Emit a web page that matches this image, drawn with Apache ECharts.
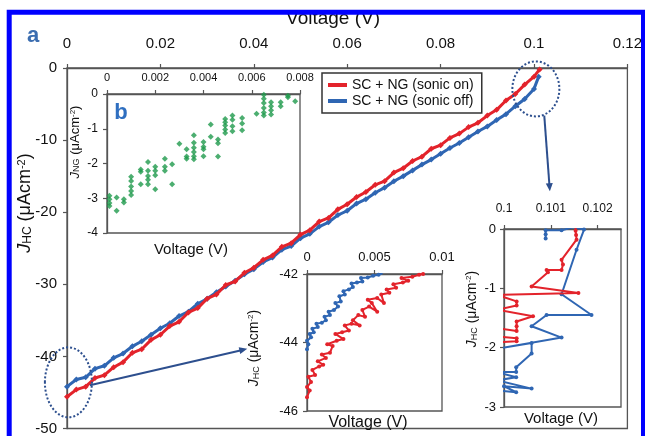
<!DOCTYPE html>
<html><head><meta charset="utf-8">
<script src="https://cdn.jsdelivr.net/npm/echarts@6/dist/echarts.min.js"></script>
<style>html,body{margin:0;padding:0;background:#fff}#c{width:645px;height:436px}</style>
</head><body><div id="c"></div>
<script>
const FONT = '"Liberation Sans", Arial, sans-serif';
const RED = '#e3232b', BLUE = '#2f66b3', GREEN = '#1f9a4c';

// ---- data ----
const legendNames = ['SC + NG (sonic on)', 'SC + NG (sonic off)'];
// main panel (a): Voltage (V) vs J_HC
const mainRed = [
 [0,-45.6],[0.002,-44.6],[0.004,-44.2],[0.006,-43.0],[0.008,-42.6],[0.010,-41.5],[0.012,-40.8],[0.014,-39.5],
 [0.016,-39.0],[0.018,-37.7],[0.020,-37.0],[0.022,-35.8],[0.024,-35.2],[0.026,-33.9],[0.028,-33.3],[0.030,-32.0],
 [0.032,-31.4],[0.034,-30.1],[0.036,-29.6],[0.038,-28.4],[0.040,-27.7],[0.042,-26.6],[0.044,-26.0],[0.046,-24.8],
 [0.048,-24.3],[0.050,-23.1],[0.052,-22.5],[0.054,-21.3],[0.056,-20.8],[0.058,-19.6],[0.060,-18.9],[0.062,-17.9],
 [0.064,-17.2],[0.066,-16.2],[0.068,-15.7],[0.070,-14.5],[0.072,-13.9],[0.074,-12.9],[0.076,-12.3],[0.078,-11.2],
 [0.080,-10.7],[0.082,-9.7],[0.084,-9.1],[0.086,-8.2],[0.088,-7.6],[0.090,-6.6],[0.092,-5.8],[0.094,-4.5],
 [0.096,-3.6],[0.098,-2.3],[0.100,-1.2],[0.1012,-0.2]
];
const mainBlue = [
 [0,-44.2],[0.002,-43.2],[0.004,-42.9],[0.006,-41.7],[0.008,-41.3],[0.010,-40.2],[0.012,-39.6],[0.014,-38.6],
 [0.016,-37.9],[0.018,-37.0],[0.020,-36.1],[0.022,-35.4],[0.024,-34.4],[0.026,-33.8],[0.028,-32.7],[0.030,-32.0],
 [0.032,-31.1],[0.034,-30.3],[0.036,-29.5],[0.038,-28.6],[0.040,-27.9],[0.042,-26.9],[0.044,-26.3],[0.046,-25.2],
 [0.048,-24.7],[0.050,-23.6],[0.052,-23.0],[0.054,-22.0],[0.056,-21.4],[0.058,-20.4],[0.060,-19.8],[0.062,-18.8],
 [0.064,-18.2],[0.066,-17.3],[0.068,-16.6],[0.070,-15.7],[0.072,-15.0],[0.074,-14.2],[0.076,-13.4],[0.078,-12.7],
 [0.080,-11.9],[0.082,-11.1],[0.084,-10.4],[0.086,-9.6],[0.088,-8.8],[0.090,-8.1],[0.092,-7.2],[0.094,-6.4],
 [0.096,-5.3],[0.098,-4.3],[0.100,-2.9],[0.101,-1.2]
];
// inset (b): J_NG
const ngPoints = [
 [0.0001,-2.93],[0.0001,-3.03],[0.0001,-3.14],[0.0001,-3.22],
 [0.0004,-2.98],[0.0004,-3.36],
 [0.0007,-3.03],[0.0007,-3.12],
 [0.001,-2.38],[0.001,-2.5],[0.001,-2.66],[0.001,-2.79],[0.001,-2.91],
 [0.0014,-2.17],[0.0014,-2.24],[0.0014,-2.6],
 [0.0017,-1.96],[0.0017,-2.21],[0.0017,-2.36],[0.0017,-2.47],[0.0017,-2.6],
 [0.002,-2.09],[0.002,-2.21],[0.002,-2.34],[0.002,-2.74],
 [0.0024,-1.86],[0.0024,-2.09],[0.0024,-2.21],
 [0.0027,-2.02],[0.0027,-2.6],
 [0.003,-1.43],
 [0.0033,-1.59],[0.0033,-1.8],[0.0033,-1.86],
 [0.0036,-1.19],[0.0036,-1.4],[0.0036,-1.55],[0.0036,-1.67],[0.0036,-1.79],[0.0036,-1.88],
 [0.004,-1.38],[0.004,-1.52],[0.004,-1.59],[0.004,-1.79],
 [0.0043,-0.88],[0.0043,-1.23],
 [0.0046,-1.31],[0.0046,-1.42],[0.0046,-1.8],
 [0.0049,-0.72],[0.0049,-0.81],[0.0049,-0.91],[0.0049,-1.02],[0.0049,-1.12],
 [0.0052,-0.62],[0.0052,-0.74],[0.0052,-0.93],[0.0052,-1.07],
 [0.0056,-0.69],[0.0056,-0.85],[0.0056,-1.04],
 [0.0062,-0.57],
 [0.0065,-0.02],[0.0065,-0.14],[0.0065,-0.26],[0.0065,-0.4],[0.0065,-0.53],[0.0065,-0.62],
 [0.0068,-0.24],[0.0068,-0.35],[0.0068,-0.47],[0.0068,-0.59],
 [0.0072,-0.24],[0.0072,-0.35],
 [0.0075,-0.05],[0.0075,-0.09],
 [0.0078,-0.21]
];
// zoom inset near V = 0
const lowRed = [
 [0,-45.6],[0.0002,-45.4],[0,-45.3],[0.0003,-45.15],[0.0001,-45.0],[0.0006,-44.95],[0.0004,-44.8],[0.0009,-44.7],
 [0.0012,-44.65],[0.0008,-44.55],[0.0014,-44.45],[0.0011,-44.35],[0.0017,-44.3],[0.0019,-44.1],[0.0015,-44.05],
 [0.0022,-43.95],[0.0027,-43.9],[0.0021,-43.75],[0.0026,-43.7],[0.0031,-43.65],[0.0028,-43.5],[0.0033,-43.45],
 [0.0039,-43.5],[0.0034,-43.35],[0.0038,-43.2],[0.0043,-43.25],[0.0041,-43.05],[0.0046,-42.95],[0.0052,-43.1],
 [0.0048,-42.85],[0.0045,-42.75],[0.0052,-42.7],[0.0057,-42.85],[0.0055,-42.6],[0.0061,-42.55],[0.0059,-42.45],
 [0.0066,-42.4],[0.0064,-42.3],[0.0071,-42.25],[0.0075,-42.2],[0.007,-42.12],[0.0078,-42.08],[0.0083,-42.02],[0.0086,-42.0]
];
const lowBlue = [
 [0,-44.2],[0.0001,-44.05],[0,-43.95],[0.0003,-43.85],[0.0002,-43.75],[0.0005,-43.7],[0.0004,-43.6],[0.0008,-43.55],
 [0.0007,-43.45],[0.0011,-43.42],[0.0014,-43.35],[0.0013,-43.25],[0.0017,-43.2],[0.0016,-43.1],[0.002,-43.05],
 [0.0023,-42.95],[0.0021,-42.85],[0.0025,-42.8],[0.0024,-42.65],[0.0028,-42.6],[0.0027,-42.5],[0.0031,-42.45],
 [0.0034,-42.38],[0.0033,-42.28],[0.0037,-42.25],[0.0041,-42.22],[0.004,-42.12],[0.0045,-42.1],[0.0049,-42.05],
 [0.0053,-42.02],[0.0056,-41.98]
];
// zoom inset near V = 0.1
const highRed = [
 [0.10153,0.02],[0.10153,-0.03],[0.10154,-0.1],[0.10155,-0.18],[0.10123,-0.52],[0.10126,-0.6],[0.10123,-0.69],
 [0.10091,-0.69],[0.10094,-0.73],[0.10059,-0.97],[0.10159,-1.08],[0.09985,-1.11],[0.10027,-1.22],[0.10027,-1.29],
 [0.09985,-1.36],[0.10062,-1.47],[0.10027,-1.56],[0.10027,-1.64],[0.10027,-1.72],[0.09985,-1.67],[0.09985,-1.81],
 [0.10027,-1.84],[0.10027,-1.89],[0.09985,-1.91]
];
const highBlue = [
 [0.10089,-0.16],[0.10089,-0.09],[0.10089,-0.02],[0.10123,-0.02],[0.10148,0.03],[0.10171,-0.01],[0.10155,-0.35],
 [0.10123,-1.10],[0.10187,-1.45],[0.10091,-1.45],[0.10059,-1.64],[0.10123,-1.83],[0.09985,-2.02],[0.10059,-1.92],
 [0.10059,-2.1],[0.10026,-2.33],[0.10026,-2.41],[0.09985,-2.41],[0.10026,-2.5],[0.09985,-2.55],[0.10059,-2.69],
 [0.1,-2.65],[0.10026,-2.75],[0.09985,-2.72]
];
// axis ranges [min, max, interval]
const mainX = [0, 0.12, 0.02], mainY = [-50, 0, 10];
const bX = [0, 0.008, 0.002], bY = [-4, 0, 1];
const cX = [0, 0.01, 0.005], cY = [-46, -42, 2];
const dX = [0.1, 0.1025, 0.001], dY = [-3, 0, 1];

// ---- chart ----
const chart = echarts.init(document.getElementById('c'));
const lineC = '#555';
function fmt(v){ return String(parseFloat(v.toFixed(4))); }
function xAx(gi, r, fs, margin, extra){
  return Object.assign({gridIndex: gi, type:'value', position:'top', min:r[0], max:r[1], interval:r[2],
    axisLine:{show:true, onZero:false, lineStyle:{color:lineC, width:1.3}},
    axisTick:{show:true, length:4, lineStyle:{color:lineC, width:1.2}},
    axisLabel:{fontSize:fs, fontFamily:FONT, color:'#111', margin:margin, formatter:fmt},
    splitLine:{show:false}}, extra||{});
}
function yAx(gi, r, fs, margin){
  return {gridIndex: gi, type:'value', min:r[0], max:r[1], interval:r[2],
    axisLine:{show:true, onZero:false, lineStyle:{color:lineC, width:1.3}},
    axisTick:{show:true, length:4, lineStyle:{color:lineC, width:1.2}},
    axisLabel:{fontSize:fs, fontFamily:FONT, color:'#111', margin:margin, formatter:fmt},
    splitLine:{show:false}};
}
const gridBase = {show:true, backgroundColor:'#fff', borderColor:lineC, borderWidth:1.3};
function lineSeries(name, xi, data, color, lw, sym, ss, z){
  return {name, type:'line', xAxisIndex:xi, yAxisIndex:xi, data, clip:true, animation:false, z:z,
    lineStyle:{color, width:lw}, itemStyle:{color}, symbol:sym, symbolSize:ss, showSymbol:true, showAllSymbol:true};
}

chart.setOption({
  animation:false,
  grid:[
    Object.assign({left:67, top:68, width:569, height:362}, gridBase),
    Object.assign({left:107, top:94, width:193, height:139}, gridBase),
    Object.assign({left:307, top:274, width:135, height:137}, gridBase),
    Object.assign({left:504, top:229, width:117, height:178}, gridBase)
  ],
  xAxis:[
    xAx(0, mainX, 15, 17),
    xAx(1, bX, 11, 11),
    xAx(2, cX, 13, 10),
    xAx(3, dX, 12, 14, {axisLabel:{fontSize:12, fontFamily:FONT, color:'#111', margin:14, formatter:fmt, showMaxLabel:false}})
  ],
  yAxis:[
    yAx(0, mainY, 15, 10),
    yAx(1, bY, 12, 9),
    yAx(2, cY, 13, 9),
    yAx(3, dY, 13, 8)
  ],
  legend:{left:322, top:73, orient:'vertical', data:legendNames, icon:'rect', itemWidth:19, itemHeight:4, itemGap:2,
    padding:[5,8,5,6], borderColor:'#333', borderWidth:1.5, backgroundColor:'#fff', selectedMode:false,
    textStyle:{fontSize:14, fontFamily:FONT, color:'#111'}},
  series:[
    lineSeries(legendNames[1], 0, mainBlue, BLUE, 3, 'diamond', 6, 2),
    lineSeries(legendNames[0], 0, mainRed, RED, 3, 'diamond', 6, 3),
    {name:'ng', type:'scatter', xAxisIndex:1, yAxisIndex:1, data:ngPoints, symbol:'diamond', symbolSize:6,
      itemStyle:{color:GREEN}, animation:false},
    lineSeries('low-off', 2, lowBlue, BLUE, 2, 'circle', 4, 2),
    lineSeries('low-on', 2, lowRed, RED, 2, 'circle', 4, 3),
    lineSeries('high-off', 3, highBlue, BLUE, 2, 'circle', 4, 2),
    lineSeries('high-on', 3, highRed, RED, 2, 'circle', 4, 3)
  ]
});

// ---- annotations (anchored in data space of panel a) ----
const P = (v) => chart.convertToPixel({gridIndex:0}, v);
const ANN = '#2d4f8e';
function txt(x, y, s, size, opts){
  return Object.assign({type:'text', x, y, z:50, style:{text:s, fontSize:size, fontFamily:FONT, fill:'#111',
    align:'center', verticalAlign:'middle', textAlign:'center', textVerticalAlign:'middle'}}, opts||{});
}
function jLabel(x, y, sub, size){
  return {type:'text', x, y, rotation:Math.PI/2, z:50, style:{
    text:'{i|J}{s|'+sub+'}{n| (μAcm}{p|-2}{n|)}', align:'center', verticalAlign:'middle',
    textAlign:'center', textVerticalAlign:'middle', fill:'#111',
    rich:{
      i:{fontSize:size, fontStyle:'italic', fontFamily:FONT, fill:'#111', lineHeight:size},
      n:{fontSize:size, fontFamily:FONT, fill:'#111', lineHeight:size},
      s:{fontSize:Math.round(size*0.66), fontFamily:FONT, fill:'#111', verticalAlign:'bottom', lineHeight:Math.round(size*0.45)},
      p:{fontSize:Math.round(size*0.6), fontFamily:FONT, fill:'#111', verticalAlign:'top', lineHeight:Math.round(size*0.45)}
    }}};
}
function arrow(a, b){
  const dx=b[0]-a[0], dy=b[1]-a[1], L=Math.hypot(dx,dy), ux=dx/L, uy=dy/L, px=-uy, py=ux, h=8, w=3.5;
  const bx=b[0]-ux*h, by=b[1]-uy*h;
  return [
    {type:'line', z:40, shape:{x1:a[0], y1:a[1], x2:bx+ux*2, y2:by+uy*2}, style:{stroke:ANN, lineWidth:2}},
    {type:'polygon', z:40, shape:{points:[[b[0],b[1]],[bx+px*w,by+py*w],[bx-px*w,by-py*w]]}, style:{fill:ANN}}
  ];
}
const e1 = P([0.0003,-43.6]), e2 = P([0.1004,-2.9]);
const graphics = [
  {type:'ellipse', z:40, shape:{cx:e1[0], cy:e1[1], rx:23.5, ry:35}, style:{fill:null, stroke:ANN, lineWidth:2, lineDash:[2,2]}},
  {type:'ellipse', z:40, shape:{cx:e2[0], cy:e2[1], rx:23.5, ry:27.5}, style:{fill:null, stroke:ANN, lineWidth:2, lineDash:[2,2]}},
  ...arrow(P([0.0049,-44]), P([0.0386,-38.95])),
  ...arrow(P([0.1022,-6.6]), P([0.1034,-17.1])),
  txt(333, 18.5, 'Voltage (V)', 19),
  jLabel(25, 203, 'HC', 18),
  txt(191, 250, 'Voltage (V)', 15),
  jLabel(75, 142, 'NG', 13),
  txt(368, 423, 'Voltage (V)', 16),
  jLabel(254, 348, 'HC', 14),
  txt(561, 419, 'Voltage (V)', 15),
  jLabel(472, 309, 'HC', 14),
  txt(33, 36, 'a', 22, {style:{text:'a', fontSize:22, fontWeight:'bold', fontFamily:FONT, fill:'#3b6db0', align:'center', verticalAlign:'middle', textAlign:'center', textVerticalAlign:'middle'}}),
  txt(121, 113, 'b', 22, {style:{text:'b', fontSize:22, fontWeight:'bold', fontFamily:FONT, fill:'#2f6fc0', align:'center', verticalAlign:'middle', textAlign:'center', textVerticalAlign:'middle'}}),
  {type:'rect', z:100, shape:{x:9.2, y:12.2, width:634.3, height:440}, style:{fill:null, stroke:'#0000ff', lineWidth:5}}
];
chart.setOption({graphic:graphics});
</script></body></html>
